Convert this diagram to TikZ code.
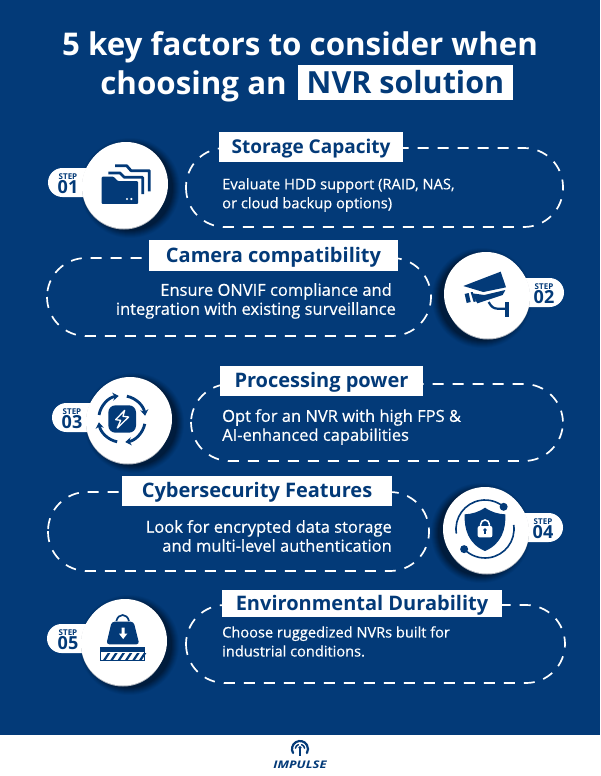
\documentclass[tikz,border=0pt]{standalone}
\usepackage{fontspec}
\setmainfont{Open Sans}
\newfontfamily\bodyfont[FakeBold=0.45]{Open Sans}
\usetikzlibrary{arrows.meta}
\definecolor{navy}{HTML}{033A78}
\definecolor{rimgray}{HTML}{AEB4BD}
\tikzset{
  titletext/.style={inner sep=0pt,text=white,font=\bfseries\fontsize{31.3}{33}\selectfont},
  headbox/.style={fill=white,inner sep=0pt,text=navy,text height=16pt,text depth=3pt,font=\bfseries\fontsize{20}{22}\selectfont},
  bodytext/.style={inner sep=0pt,text=white,font=\bodyfont\fontsize{16.5}{19}\selectfont},
  dashpill/.style={draw=white,line width=1.7pt,rounded corners=39pt,dash pattern=on 11pt off 9pt},
  stepinfo/.style={inner sep=0pt,text=navy,align=center,font=\bfseries},
  iconfill/.style={fill=navy,draw=none},
  iconline/.style={draw=navy,line width=2.8pt},
  icon/.style={x=0.3333pt,y=-0.3333pt},
}
% cx cy dir tabx1 tabx2 cytab textx num
\newcommand{\stepbadge}[8]{%
  \foreach \r/\o in {50/0.04,49/0.05,48/0.06,47/0.07,46/0.08,45/0.09,44/0.1,43/0.12}{
    \fill[black,opacity=\o] ({#1+(#3)*4},{#2+4}) circle[radius=\r pt];}
  \fill[white,rounded corners=14.5pt] (#4,#6-14.5) rectangle (#5,#6+14.5);
  \fill[rimgray] ({#1-(#3)*2},{#2+3.5}) circle[radius=42pt];
  \fill[white] ({#1-(#3)*2},{#2+2.5}) circle[radius=42pt];
  \fill[white] (#1,#2) circle[radius=42pt];
  \node[stepinfo] (step#8) at (#7,#6+1.3) {\fontsize{8}{8}\selectfont STEP\\\fontsize{18}{13}\selectfont #8};
}
\begin{document}
\begin{tikzpicture}[x=1pt,y=-1pt]
\useasboundingbox (0,0) rectangle (600,776);
\fill[navy] (0,0) rectangle (600,734.5);
\fill[white] (0,734.5) rectangle (600,776);

% title
\node[titletext] (t1) at (300,47) {5 key factors to consider when};
\node[titletext,anchor=east] (t2) at (287,86) {choosing an};
\node[fill=white,minimum width=215pt,minimum height=35pt,inner sep=0pt,text=navy,text height=27pt,text depth=5pt,font=\bfseries\fontsize{30.5}{33}\selectfont] (t3) at (405.5,82.5) {NVR solution};

% pills
\draw[dashpill] (186,148) rectangle (563,227);
\node[headbox,minimum width=184pt,minimum height=30pt,font=\bfseries\fontsize{19}{22}\selectfont] (h1) at (311,147) {Storage Capacity};
\node[bodytext,anchor=west,align=left,font=\bodyfont\fontsize{14.7}{19}\selectfont] (b1) at (222,195) {Evaluate HDD support (RAID, NAS,\\or cloud backup options)};

\draw[dashpill] (47,258) rectangle (431,336);
\node[headbox,minimum width=249pt,minimum height=31pt] (h2) at (273.5,255.5) {Camera compatibility};
\node[bodytext,anchor=east,align=right] (b2) at (396,301) {Ensure ONVIF compliance and\hspace*{4pt}\\integration with existing surveillance};

\draw[dashpill] (191,384) rectangle (563,461);
\node[headbox,minimum width=203pt,minimum height=30pt] (h3) at (321.5,381) {Processing power};
\node[bodytext,anchor=west,align=left] (b3) at (222,427) {Opt for an NVR with high FPS \&\\AI-enhanced capabilities};

\draw[dashpill] (48,492) rectangle (429,571);
\node[headbox,minimum width=270pt,minimum height=30pt] (h4) at (257,491) {Cybersecurity Features};
\node[bodytext,anchor=east,align=right] (b4) at (392,536) {Look for encrypted data storage\\and multi-level authentication};

\draw[dashpill] (186,605) rectangle (565,683);
\node[headbox,minimum width=280pt,minimum height=27pt] (h5) at (362,603.5) {Environmental Durability};
\node[bodytext,anchor=west,align=left,font=\bodyfont\fontsize{14.6}{19}\selectfont] (b5) at (222,641.5) {Choose ruggedized NVRs built for\\industrial conditions.};

% badges
\stepbadge{126}{184}{1}{48}{110}{182.5}{68}{01}
\stepbadge{486}{294}{-1}{500}{564}{292.5}{544}{02}
\stepbadge{130}{419}{1}{52}{110}{417.5}{72}{03}
\stepbadge{485}{529}{-1}{500}{563}{527.5}{543}{04}
\stepbadge{125}{641}{1}{47}{110}{638.5}{68}{05}

% folders
\begin{scope}[shift={(126,184)},icon]
  \draw[iconline,line join=round] (-53,-33) -- (-18,-33) -- (-5,-20) -- (50,-20) -- (50,30);
  \draw[iconline,line join=round] (-33,-55) -- (2,-55) -- (15,-40) -- (70,-40) -- (70,22);
  \fill[iconfill,rounded corners=1pt] (-73,-22) -- (-37,-22) -- (-25,-9) -- (36,-9) -- (36,60) -- (-73,60) -- cycle;
  \fill[white] (3,45) circle[radius=1.2pt] (16,45) circle[radius=1.2pt];
\end{scope}

% camera
\begin{scope}[shift={(486,294)},icon]
  \fill[iconfill] (-68,-24) -- (44,-67) -- (60,-20) -- (-8,-6) -- cycle;
  \fill[iconfill] (-42,-2) -- (-5,3) -- (58,-12) -- (50,3) -- (-26,28) -- cycle;
  \fill[iconfill] (-64,0) -- (-52,-3) -- (-46,24) -- (-58,27) -- cycle;
  \fill[iconfill] (-46,-5) -- (-40,-6) -- (-30,22) -- (-37,24) -- cycle;
  \draw[iconline,line width=2.2pt] (8,24) .. controls (14,36) and (22,44) .. (34,44) -- (58,44);
  \fill[iconfill] (57,23) rectangle (70,70);
\end{scope}

% power
\begin{scope}[shift={(122,419)},icon]
  \draw[draw=navy,line width=2.8pt,-{Stealth[length=6pt,width=8pt]}] (190:70) arc[start angle=190,end angle=262,radius=70];
  \draw[draw=navy,line width=2.8pt,-{Stealth[length=6pt,width=8pt]}] (282:70) arc[start angle=282,end angle=352,radius=70];
  \draw[draw=navy,line width=2.8pt,-{Stealth[length=6pt,width=8pt]}] (12:70) arc[start angle=12,end angle=82,radius=70];
  \draw[draw=navy,line width=2.8pt,-{Stealth[length=6pt,width=8pt]}] (102:70) arc[start angle=102,end angle=172,radius=70];
  \fill[navy,rounded corners=7pt] (-41,-41) rectangle (42,41);
  \draw[white,line width=1.3pt,line join=round] (8,-26) -- (-19,2) -- (-4,4) -- (-14,27) -- (20,-6) -- (3,-8) -- cycle;
\end{scope}

% shield
\begin{scope}[shift={(485,529)},icon]
  \draw[navy,line width=1.6pt] (171:87) arc[start angle=171,end angle=310,radius=87];
  \draw[navy,line width=1.6pt] (-8:87) arc[start angle=-8,end angle=136,radius=87];
  \fill[navy] (310:87) circle[radius=4pt] (136:87) circle[radius=4pt];
  \fill[navy] (0,-64) .. controls (20,-50) and (40,-45) .. (61,-44) .. controls (63,0) and (50,45) .. (0,66) .. controls (-50,45) and (-63,0) .. (-61,-44) .. controls (-40,-45) and (-20,-50) .. cycle;
  \draw[white,line width=1.6pt] (-13,-8) -- (-13,-14) arc[start angle=180,end angle=360,radius=13] -- (13,-8);
  \fill[white,rounded corners=2pt] (-22,-9) rectangle (22,25);
  \fill[navy] (0,3) circle[radius=1.8pt];
  \fill[navy] (-2.5,3) rectangle (2.5,16);
\end{scope}

% weight
\begin{scope}[shift={(125,641)},icon]
  \draw[navy,line width=1.7pt] (-26,-60) .. controls (-20,-84) and (6,-84) .. (12,-60);
  \fill[iconfill,rounded corners=3pt] (-40,-58) -- (26,-58) -- (43,10) -- (-56,10) -- cycle;
  \fill[white] (-10,-40) -- (-1,-40) -- (-1,-22) -- (7,-22) -- (-5.5,-6) -- (-18,-22) -- (-10,-22) -- cycle;
  \fill[iconfill] (-76,18) rectangle (61,32);
  \draw[navy,line width=1pt] (-75,32) -- (-75,59) -- (60,59) -- (60,32);
  \foreach \sx in {-52,-30,-8,14,36,56}{
    \fill[navy] (\sx,36) -- (\sx+8,36) -- (\sx-6,57) -- (\sx-14,57) -- cycle;}
\end{scope}

% logo
\begin{scope}[shift={(300,749)},icon]
  \draw[navy,line width=2.2pt,line cap=round] (150:24) arc[start angle=150,end angle=390,radius=24];
  \draw[navy,line width=1.5pt,line cap=round] (190:14) arc[start angle=190,end angle=250,radius=14];
  \draw[navy,line width=1.5pt,line cap=round] (290:14) arc[start angle=290,end angle=350,radius=14];
  \fill[navy] (0,-4) circle[radius=1.7pt];
  \fill[navy] (-3,-2) rectangle (3,20);
\end{scope}
\node[inner sep=0pt,text=navy,xscale=1.25,font=\bfseries\itshape\fontsize{10.5}{11}\selectfont] (logo) at (300,765) {IMPULSE};
\end{tikzpicture}
\end{document}
